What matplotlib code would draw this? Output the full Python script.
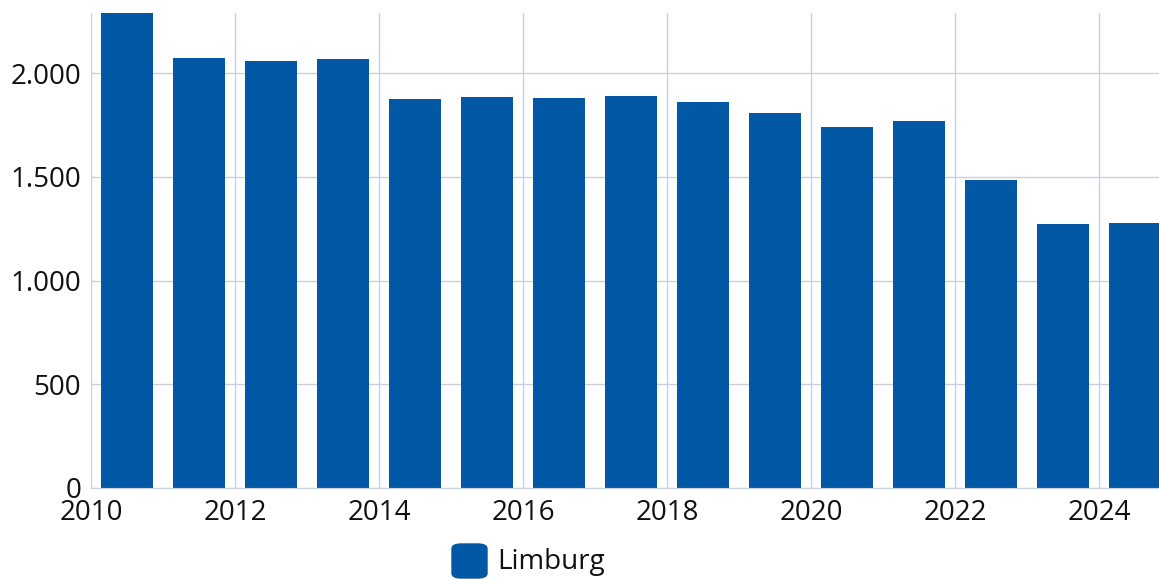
import matplotlib
matplotlib.use("Agg")
import matplotlib.pyplot as plt
from matplotlib.patches import FancyBboxPatch
from matplotlib.ticker import FuncFormatter

years = [2010, 2011, 2012, 2013, 2014, 2015, 2016, 2017, 2018, 2019, 2020, 2021, 2022, 2023, 2024]
values = [2340, 2072, 2058, 2067, 1875, 1884, 1880, 1889, 1860, 1807, 1740, 1769, 1484, 1272, 1277]
yticks = [0, 500, 1000, 1500, 2000]
xticks = [2010, 2012, 2014, 2016, 2018, 2020, 2022, 2024]
series_name = "Limburg"

bar_color = "#0358a5"
grid_color = "#c9d1dd"

plt.rcParams["font.family"] = ["Open Sans", "DejaVu Sans"]

W, H = 1159, 579
fig = plt.figure(figsize=(W / 100, H / 100), dpi=100)
ax = fig.add_axes([91 / W, (H - 488) / H, (W - 91) / W, (488 - 13) / H])

centers = [y + 0.5 for y in years]
ax.bar(centers, values, width=0.72, color=bar_color, zorder=2)

ax.set_xlim(2010, 2010 + (W - 91) / 72)
ax.set_ylim(0, 2290)
ax.set_yticks(yticks)
ax.set_xticks(xticks)
ax.yaxis.set_major_formatter(FuncFormatter(lambda v, p: f"{int(v):,}".replace(",", ".")))
ax.grid(True, color=grid_color, linewidth=1, zorder=0)
for s in ["top", "right", "left"]:
    ax.spines[s].set_visible(False)
ax.spines["bottom"].set_color(grid_color)
ax.tick_params(axis="both", length=0, labelsize=20, colors="#111111")
ax.tick_params(axis="y", pad=7)
ax.tick_params(axis="x", pad=8)

# legend
box = FancyBboxPatch((452 / W, (H - 578) / H), 35 / W, 34 / H,
                     boxstyle="round,pad=0,rounding_size=0.008",
                     transform=fig.transFigure, color=bar_color, clip_on=False)
fig.patches.append(box)
fig.text(497 / W, (H - 562) / H, series_name, fontsize=20, va="center", ha="left", color="#111111")

fig.savefig("out.png", dpi=100)
